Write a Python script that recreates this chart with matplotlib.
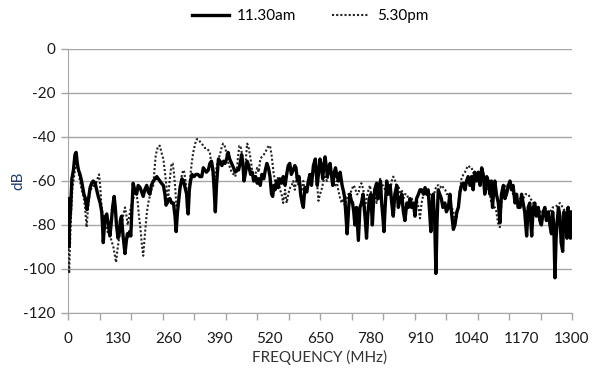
import numpy as np
import matplotlib
matplotlib.use("Agg")
import matplotlib.pyplot as plt
from matplotlib.lines import Line2D

# ---- data ----
am_freq = [0, 2, 4, 7, 10, 14, 18, 21, 24, 27, 31, 35, 38, 41, 45, 49, 53, 57, 61, 65,
           70, 74, 78, 83, 87, 89, 91, 94, 97, 100, 104, 108, 111, 115, 119, 122, 125, 129,
           132, 135, 138, 142, 145, 147, 150, 153, 156, 159, 162, 165, 168, 172, 177, 181,
           186, 190, 194, 198, 203, 207, 211, 215, 220, 225, 229, 233, 237, 241, 246, 250,
           253, 258, 263, 267, 272, 276, 279, 282, 285, 289, 294, 298, 302, 306, 308, 310,
           313, 316, 320, 325, 330, 335, 340, 345, 349, 353, 357, 362, 366, 370, 374, 377,
           380, 383, 388, 392, 397, 401, 405, 409, 413, 417, 422, 427, 431, 435, 440, 444,
           448, 451, 454, 458, 462, 466, 471, 475, 479, 484, 488, 492, 496, 500, 505, 509,
           513, 517, 521, 525, 528, 531, 534, 538, 542, 546, 551, 555, 560, 564, 568, 572,
           576, 581, 585, 588, 592, 596, 600, 604, 607, 611, 616, 620, 624, 628, 633, 638,
           641, 643, 647, 650, 654, 657, 660, 663, 666, 669, 673, 676, 680, 683, 687, 690,
           694, 698, 702, 707, 711, 714, 717, 720, 724, 727, 731, 734, 737, 740, 744, 749,
           753, 757, 761, 764, 767, 770, 773, 777, 781, 785, 788, 791, 796, 800, 803, 806,
           809, 812, 815, 818, 822, 826, 831, 835, 839, 843, 848, 852, 857, 861, 865, 869,
           874, 878, 882, 886, 891, 895, 899, 904, 908, 912, 917, 921, 925, 929, 932, 936,
           939, 942, 946, 949, 952, 955, 959, 963, 967, 972, 976, 981, 985, 989, 994, 998,
           1003, 1007, 1011, 1015, 1020, 1024, 1028, 1032, 1037, 1041, 1045, 1049, 1054,
           1058, 1063, 1067, 1071, 1075, 1080, 1084, 1088, 1092, 1095, 1099, 1101, 1105,
           1110, 1114, 1118, 1123, 1127, 1131, 1136, 1140, 1144, 1148, 1153, 1157, 1161,
           1166, 1170, 1174, 1178, 1183, 1187, 1191, 1196, 1200, 1204, 1208, 1213, 1217,
           1221, 1226, 1230, 1234, 1239, 1243, 1247, 1250, 1253, 1256, 1259, 1262, 1265,
           1269, 1272, 1276, 1279, 1283, 1287, 1290, 1293, 1296, 1298, 1300]
am_db = [-68, -90, -80, -72, -59, -55, -48, -47, -52, -55, -57, -60, -63, -66, -68, -73, -68, -63, -61, -60,
         -61, -64, -67, -70, -74, -80, -88, -80, -76, -75, -80, -85, -80, -72, -67, -72, -80, -86,
         -84, -78, -76, -85, -90, -93, -88, -84, -85, -83, -85, -72, -61, -64, -66, -62,
         -63, -65, -67, -64, -62, -65, -66, -62, -60, -59, -58, -59, -60, -61, -62, -66,
         -71, -69, -68, -70, -70, -76, -83, -75, -70, -63, -59, -60, -63, -66, -72, -75,
         -64, -60, -57, -58, -57, -57, -58, -58, -54, -55, -56, -55, -52, -51, -55, -64,
         -74, -62, -50, -51, -53, -51, -52, -50, -47, -50, -52, -54, -56, -55, -55, -52,
         -48, -52, -60, -56, -51, -53, -57, -56, -60, -58, -61, -59, -62, -57, -59, -55,
         -52, -54, -58, -66, -67, -62, -64, -60, -63, -59, -61, -58, -62, -57, -53, -52,
         -57, -55, -53, -54, -60, -58, -66, -70, -72, -63, -65, -60, -57, -62, -53, -50,
         -58, -62, -55, -50, -54, -59, -53, -49, -53, -58, -54, -52, -58, -62, -56, -54,
         -58, -60, -56, -62, -65, -68, -76, -84, -72, -66, -69, -70, -74, -80, -72, -87,
         -72, -70, -66, -72, -78, -86, -76, -68, -66, -80, -70, -64, -61, -68, -63, -60,
         -70, -76, -83, -72, -60, -66, -62, -70, -76, -66, -62, -72, -68, -66, -74, -78,
         -70, -72, -68, -72, -70, -76, -68, -66, -64, -64, -66, -63, -66, -64, -72, -83,
         -70, -66, -80, -102, -78, -64, -66, -68, -72, -70, -74, -72, -66, -74, -82, -80,
         -74, -72, -65, -62, -61, -64, -60, -58, -62, -58, -64, -56, -60,
         -56, -62, -54, -57, -66, -58, -60, -66, -60, -72, -62, -60, -66,
         -70, -79, -66, -62, -68, -66, -62, -60, -64, -62, -70, -66, -72,
         -72, -66, -70, -74, -85, -72, -70, -85, -72, -70, -76, -72, -78,
         -80, -74, -72, -78, -74, -80, -84, -74, -80, -104, -86, -78, -72,
         -76, -88, -92, -74, -75, -86, -72, -78, -86, -74, -84]

pm_freq = [0, 2, 3, 5, 8, 11, 14, 18, 22, 25, 28, 31, 35, 40, 44, 48, 51, 54, 57, 61,
           65, 70, 74, 78, 80, 83, 87, 91, 95, 100, 104, 108, 112, 117, 120, 124, 127, 130,
           134, 138, 143, 147, 151, 154, 158, 162, 165, 170, 174, 177, 180, 183, 186, 190,
           194, 198, 203, 207, 211, 215, 220, 223, 226, 229, 233, 237, 241, 246, 250, 255,
           258, 261, 264, 267, 270, 273, 276, 280, 283, 286, 289, 293, 297, 300, 303, 306,
           310, 313, 316, 319, 323, 328, 332, 336, 340, 345, 349, 353, 357, 362, 366, 370,
           374, 379, 383, 388, 392, 396, 400, 404, 407, 411, 414, 418, 422, 427, 431, 435,
           438, 442, 445, 448, 451, 454, 458, 462, 465, 469, 471, 475, 479, 483, 488, 492,
           496, 500, 505, 509, 514, 518, 521, 525, 530, 534, 538, 542, 547, 551, 555, 560,
           564, 568, 573, 577, 581, 585, 590, 594, 598, 603, 607, 611, 616, 620, 624, 628,
           633, 637, 641, 646, 650, 654, 659, 663, 668, 672, 676, 680, 684, 689, 693, 697,
           702, 706, 710, 714, 719, 723, 727, 732, 736, 740, 745, 749, 753, 757, 762, 766,
           770, 775, 779, 783, 788, 792, 796, 800, 805, 809, 813, 818, 822, 826, 831, 835,
           839, 844, 848, 852, 857, 861, 865, 869, 874, 878, 882, 887, 891, 895, 899, 904,
           908, 912, 917, 921, 925, 929, 934, 938, 942, 947, 951, 956, 960, 964, 968, 973,
           977, 981, 985, 990, 994, 998, 1003, 1007, 1011, 1015, 1020, 1024, 1029, 1033,
           1037, 1041, 1045, 1050, 1054, 1058, 1063, 1067, 1071, 1075, 1080, 1084, 1088,
           1092, 1097, 1101, 1105, 1110, 1114, 1118, 1122, 1127, 1131, 1135, 1140, 1144,
           1148, 1153, 1157, 1161, 1166, 1170, 1174, 1180, 1187, 1193, 1200, 1206, 1213,
           1219, 1226, 1230, 1234, 1239, 1243, 1250, 1256, 1262, 1269, 1276, 1283, 1290,
           1296, 1300]
pm_db = [-70, -95, -102, -90, -75, -64, -60, -55, -52, -54, -57, -60, -64, -67, -72, -81, -74, -68, -65, -63,
         -62, -63, -60, -58, -57, -62, -73, -76, -80, -82, -84, -85, -87, -90, -93, -97, -92, -88,
         -84, -80, -75, -72, -76, -80, -76, -72, -70, -67, -65, -66, -70, -76, -80, -88,
         -94, -85, -75, -70, -67, -64, -62, -55, -49, -46, -44, -44, -47, -50, -56, -64,
         -70, -62, -57, -52, -52, -56, -62, -72, -70, -66, -64, -58, -55, -56, -60, -64,
         -68, -62, -57, -52, -47, -43, -41, -41, -42, -43, -44, -45, -45, -46, -47, -53,
         -58, -58, -54, -50, -48, -45, -43, -44, -46, -50, -52, -54, -56, -57, -58, -56,
         -50, -44, -44, -47, -52, -56, -52, -43, -44, -48, -50, -55, -58, -57, -54, -56,
         -50, -49, -48, -47, -45, -44, -44, -48, -56, -60, -62, -58, -64, -66, -70, -64,
         -70, -66, -63, -62, -60, -64, -58, -62, -62, -64, -60, -66, -62, -60, -58, -60,
         -56, -52, -58, -69, -66, -64, -60, -58, -60, -57, -56, -58, -60, -62, -60, -64,
         -68, -70, -68, -71, -68, -66, -66, -64, -62, -63, -66, -66, -62, -61, -64, -72,
         -68, -64, -62, -68, -66, -66, -70, -66, -59, -62, -62, -64, -66, -62, -65, -60,
         -58, -60, -63, -62, -66, -64, -68, -66, -66, -68, -70, -68, -72, -70, -68, -72,
         -77, -70, -66, -64, -64, -66, -66, -68, -68, -64, -62, -62, -63, -62, -63, -64,
         -66, -66, -70, -72, -74, -78, -76, -70, -64, -59, -57, -56, -54, -53,
         -54, -54, -56, -58, -58, -60, -58, -56, -58, -60, -62, -64, -66,
         -70, -72, -72, -74, -80, -81, -70, -66, -64, -62, -62, -63, -64,
         -66, -66, -68, -70, -68, -68, -68, -66, -66, -68, -70, -72, -72,
         -74, -74, -76, -76, -74, -74, -72, -72, -71, -70, -72, -74, -75,
         -76, -76]

x_ticklabels = [0, 130, 260, 390, 520, 650, 780, 910, 1040, 1170, 1300]
y_ticks = [0, -20, -40, -60, -80, -100, -120]
series_names = ["11.30am", "5.30pm"]

# ---- figure ----
plt.rcParams['font.family'] = ['Lato', 'DejaVu Sans']
fig = plt.figure(figsize=(5.92, 3.68), dpi=100)
ax = fig.add_axes([68/592, 1-313/368, 504/592, 264/368])

grid_c = '#a6a6a6'
txt_c = '#1a1a1a'
ax.plot(pm_freq, pm_db, color='#222222', lw=1.5, ls=(0, (1, 1.0)), zorder=3)
ax.plot(am_freq, am_db, color='black', lw=2.4, zorder=4)

ax.set_xlim(0, 1300)
ax.set_ylim(-120, 0)
ax.set_yticks(y_ticks)
ax.set_yticklabels([str(v) for v in y_ticks])
for v in y_ticks:
    ax.axhline(v, color=grid_c, lw=1.0, zorder=1)

# x tick labels every 130 MHz (no marks); tick marks at 16 equal intervals
ax.xaxis.remove_overlapping_locs = False
ax.set_xticks(x_ticklabels)
ax.set_xticklabels([str(v) for v in x_ticklabels])
ax.set_xticks(np.linspace(0, 1300, 17), minor=True)
ax.tick_params(axis='x', which='major', length=0, pad=14, labelsize=11, labelcolor=txt_c)
ax.tick_params(axis='x', which='minor', length=5, width=1, color=grid_c, direction='out')
ax.tick_params(axis='y', length=5, width=1, color=grid_c, direction='out', labelsize=11,
               labelcolor=txt_c, pad=4)

for s in ['top', 'right']:
    ax.spines[s].set_visible(False)
ax.spines['left'].set_color(grid_c)
ax.spines['bottom'].set_color(grid_c)

fig.text((68 + 252) / 592, 1 - 357 / 368, 'FREQUENCY (MHz)', fontsize=11, color='#333333',
         ha='center', va='center')
ax.set_ylabel('dB', fontsize=11, color='#1f3a70')
ax.yaxis.set_label_coords(-43/504, 0.5)

handles = [Line2D([], [], color='black', lw=2.4),
           Line2D([], [], color='#222222', lw=1.5, ls=(0, (1, 1.0)))]
fig.legend(handles, series_names, loc='center', bbox_to_anchor=(310/592, 1-16/368),
           ncol=2, frameon=False, fontsize=11, handlelength=2.4, columnspacing=2.4,
           handletextpad=0.5)

fig.savefig('out.png', dpi=100)
